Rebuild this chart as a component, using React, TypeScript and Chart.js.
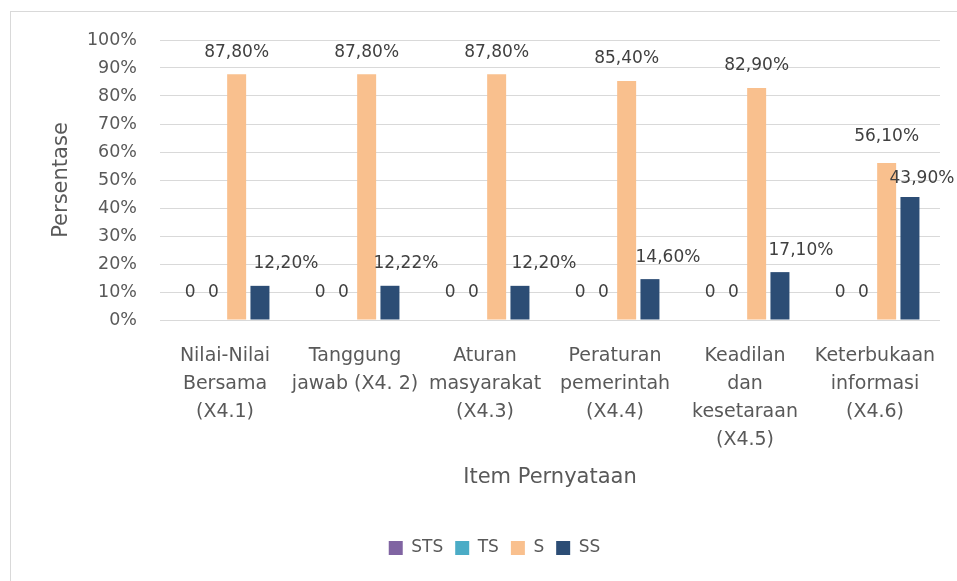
import React, { useEffect, useRef } from "react";
import { Chart, registerables } from "chart.js";

Chart.register(...registerables);

const categories: string[][] = [
  ["Nilai-Nilai", "Bersama", "(X4.1)"],
  ["Tanggung", "jawab (X4. 2)"],
  ["Aturan", "masyarakat", "(X4.3)"],
  ["Peraturan", "pemerintah", "(X4.4)"],
  ["Keadilan", "dan", "kesetaraan", "(X4.5)"],
  ["Keterbukaan", "informasi", "(X4.6)"],
];

const stsValues = [0, 0, 0, 0, 0, 0];
const tsValues = [0, 0, 0, 0, 0, 0];
const sValues = [87.8, 87.8, 87.8, 85.4, 82.9, 56.1];
const ssValues = [12.2, 12.22, 12.2, 14.6, 17.1, 43.9];

const yTicks = [0, 10, 20, 30, 40, 50, 60, 70, 80, 90, 100];

// label nudges (style only)
const ssLabelDx = [26, 16, 24, 18, 21, 12];
const sLabelDy = [0, 0, 0, 0, 0, 4];
const ssLabelDy = [0, 0, 0, 0, 0, -3];

const FONT = "'DejaVu Sans', sans-serif";

const fmt = (v: number) =>
  v === 0 ? "0" : v.toFixed(2).replace(".", ",") + "%";

const labelPlugin = {
  id: "valueLabels",
  afterLayout(chart: any) {
    const lg = chart.legend;
    if (lg) {
      lg.left += 19;
      lg.right += 19;
    }
  },
  afterDatasetsDraw(chart: any) {
    const ctx = chart.ctx;
    ctx.save();
    ctx.font = `17px ${FONT}`;
    ctx.fillStyle = "#404040";
    ctx.textAlign = "center";
    ctx.textBaseline = "middle";
    chart.data.datasets.forEach((ds: any, di: number) => {
      const meta = chart.getDatasetMeta(di);
      meta.data.forEach((el: any, i: number) => {
        const v = ds.data[i];
        let dx = 0;
        let dy = 0;
        if (di === 3) {
          dx = ssLabelDx[i];
          dy = ssLabelDy[i];
        }
        if (di === 2) dy = sLabelDy[i];
        const off = v === 0 ? 27 : 22;
        ctx.fillText(fmt(v), el.x + dx, el.y - off - dy);
      });
    });
    ctx.restore();
  },
};

export default function App() {
  const ref = useRef<HTMLCanvasElement | null>(null);

  useEffect(() => {
    if (!ref.current) return;
    Chart.defaults.font.family = FONT;
    const chart = new Chart(ref.current, {
      type: "bar",
      data: {
        labels: categories,
        datasets: [
          { label: "STS", data: stsValues, backgroundColor: "#8064A2" },
          { label: "TS", data: tsValues, backgroundColor: "#4BACC6" },
          { label: "S", data: sValues, backgroundColor: "#F9C08E" },
          { label: "SS", data: ssValues, backgroundColor: "#2C4D75" },
        ],
      },
      options: {
        responsive: false,
        animation: false,
        datasets: {
          bar: { categoryPercentage: 0.717, barPercentage: 0.815 },
        } as any,
        layout: { padding: { top: 28, right: 39, bottom: 14.5, left: 0 } },
        plugins: {
          legend: {
            position: "bottom",
            labels: {
              boxWidth: 14,
              boxHeight: 14,
              padding: 12,
              color: "#595959",
              font: { size: 17, family: FONT },
            },
          },
          tooltip: { enabled: false },
        },
        scales: {
          x: {
            grid: { display: false, drawTicks: false },
            border: { display: false },
            ticks: {
              color: "#595959",
              font: { size: 19, family: FONT, lineHeight: "28px" } as any,
              padding: 22,
              maxRotation: 0,
              autoSkip: false,
            },
            title: {
              display: true,
              text: "Item Pernyataan",
              color: "#595959",
              font: { size: 21, family: FONT },
              padding: { top: 0, bottom: 37 },
            },
            afterFit(scale: any) {
              scale.height = 207.5;
            },
          },
          y: {
            min: 0,
            max: 100,
            afterBuildTicks(scale: any) {
              scale.ticks = yTicks.map((v) => ({ value: v }));
            },
            grid: {
              color: "#D9D9D9",
              lineWidth: 1,
              drawTicks: true,
              tickLength: 23,
              tickColor: "rgba(0,0,0,0)",
            },
            border: { display: false },
            ticks: {
              color: "#595959",
              font: { size: 17.5, family: FONT },
              padding: 0,
              callback: (v: any) => v + "%",
            },
            title: {
              display: true,
              text: "Persentase",
              color: "#595959",
              font: { size: 21, family: FONT },
              padding: { top: 38, bottom: 0 },
            },
            afterFit(scale: any) {
              scale.width = 149;
            },
          },
        },
      },
      plugins: [labelPlugin],
    });
    return () => chart.destroy();
  }, []);

  return (
    <div
      style={{
        position: "absolute",
        left: 0,
        top: 0,
        width: 957,
        height: 581,
        overflow: "hidden",
        background: "#fff",
      }}
    >
      <div
        style={{
          position: "absolute",
          left: 10,
          top: 11,
          width: 968,
          height: 600,
          border: "1px solid #D9D9D9",
        }}
      >
        <canvas ref={ref} width={968} height={569} style={{ display: "block" }} />
      </div>
    </div>
  );
}
